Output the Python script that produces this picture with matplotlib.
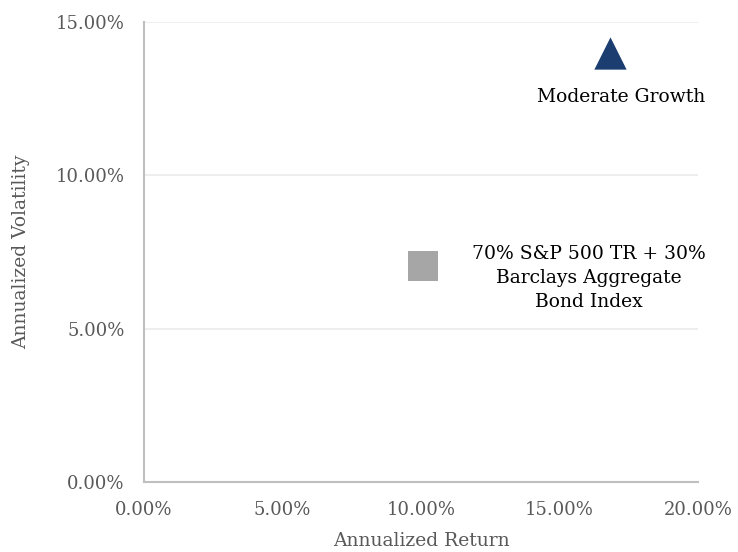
import matplotlib.pyplot as plt
from matplotlib.ticker import PercentFormatter

# data (percent)
names = ["Moderate Growth", "70% S&P 500 TR + 30%\nBarclays Aggregate\nBond Index"]
returns = [16.82, 10.07]
vols = [13.99, 7.04]
markers = ["^", "s"]
colors = ["#1b3d6f", "#a6a6a6"]
label_offsets = [(11, -44), (166, -12)]

plt.rcParams['font.family'] = ['DejaVu Serif']

fig = plt.figure(figsize=(7.38, 5.52), dpi=100)
ax = fig.add_axes([0.195, 0.127, 0.751, 0.833])

for r, v, m, c, n, off in zip(returns, vols, markers, colors, names, label_offsets):
    ax.scatter(r, v, marker=m, s=540 if m == "^" else 470, color=c, linewidths=0, zorder=3)
    ax.annotate(n, (r, v), xytext=off, textcoords='offset pixels',
                ha='center', va='center', fontsize=13.5, color='black',
                linespacing=1.4)

ax.set_xlim(0, 20)
ax.set_ylim(0, 15)
ax.set_xticks([0, 5, 10, 15, 20])
ax.set_yticks([0, 5, 10, 15])
ax.xaxis.set_major_formatter(PercentFormatter(decimals=2))
ax.yaxis.set_major_formatter(PercentFormatter(decimals=2))
ax.tick_params(length=0, labelsize=13, labelcolor='#595959', pad=14)

ax.grid(axis='y', color='#ebebeb', linewidth=1.2)
ax.set_axisbelow(True)
for s in ['top', 'right']:
    ax.spines[s].set_visible(False)
for s in ['left', 'bottom']:
    ax.spines[s].set_color('#bfbfbf')
    ax.spines[s].set_linewidth(1.5)

ax.set_xlabel('Annualized Return', fontsize=13.5, color='#595959', labelpad=9)
ax.set_ylabel('Annualized Volatility', fontsize=13.5, color='#595959', labelpad=18)

fig.savefig('out.png', dpi=100)
